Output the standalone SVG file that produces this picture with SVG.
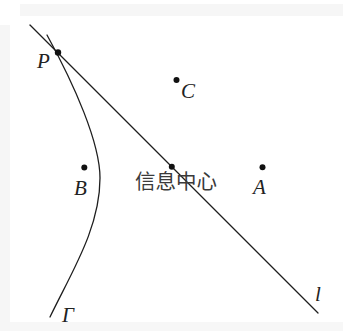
<svg xmlns="http://www.w3.org/2000/svg" width="343" height="331" viewBox="0 0 343 331">
<style>
.ln{fill:none;stroke:#1e1e1e;stroke-width:1.3;stroke-linecap:round}
.dot{fill:#111}
.lbl{font-family:"Liberation Serif","Times New Roman",serif;font-style:italic;font-size:21px;fill:#222}
.cn{font-family:"Noto Sans CJK SC","Noto Sans",sans-serif;font-size:20.5px;fill:#3a3a3a}
</style>
<rect x="0" y="0" width="343" height="331" fill="#ffffff"/>
<rect x="20" y="4" width="323" height="12" fill="#f6f6f6"/>
<rect x="0" y="25" width="10" height="306" fill="#f6f6f6"/>
<rect x="10" y="322" width="333" height="9" fill="#f7f7f7"/>
<g id="connectors">
<path id="line-l" class="ln" d="M30,25 L318,313"/>
<path id="curve-gamma" class="ln" d="M47,35 C74.5,85 100,143 100,178 C100,228 71.6,272 50,317"/>
</g>
<g id="node-P"><circle class="dot" cx="58" cy="52.5" r="3.2"/><text class="lbl" x="37" y="68">P</text></g>
<g id="node-C"><circle class="dot" cx="176.5" cy="80" r="3"/><text class="lbl" x="181" y="98">C</text></g>
<g id="node-B"><circle class="dot" cx="84.3" cy="167.5" r="3"/><text class="lbl" x="74" y="195">B</text></g>
<g id="node-center"><circle class="dot" cx="171.8" cy="166.8" r="3"/><text class="cn" x="135" y="189">信息中心</text></g>
<g id="node-A"><circle class="dot" cx="262.5" cy="167.3" r="3"/><text class="lbl" x="253" y="194">A</text></g>
<g id="label-gamma"><text class="lbl" x="62" y="321.5">Γ</text></g>
<g id="label-l"><text class="lbl" x="315" y="301">l</text></g>
</svg>
